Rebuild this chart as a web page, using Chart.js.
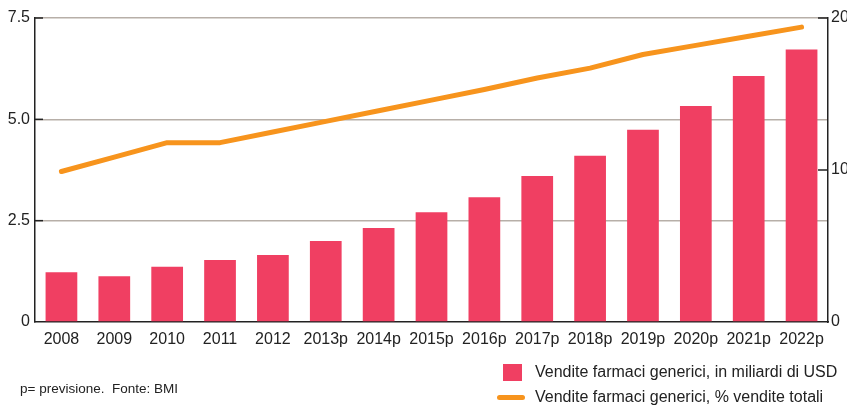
<!DOCTYPE html>
<html>
<head>
<meta charset="utf-8">
<script src="https://cdn.jsdelivr.net/npm/chart.js@4"></script>
<style>
  body { margin: 0; background: #fff; }
  #wrap { position: relative; width: 847px; height: 407px; font-family: "Liberation Sans", Arial, Helvetica, sans-serif; color: #222; }
  #wrap canvas { position: absolute; left: 0; top: 0; }
  .note { position: absolute; left: 20px; top: 381px; font-size: 13.5px; line-height: 16px; }
  .leg { position: absolute; left: 535px; font-size: 16px; line-height: 18px; white-space: nowrap; }
  .box { position: absolute; left: 503px; top: 364px; width: 19px; height: 17px; background: #f03f62; }
  .bar { position: absolute; left: 497px; top: 395px; width: 28px; height: 5px; border-radius: 3px; background: #f7941d; }
</style>
</head>
<body>
<div id="wrap">
  <canvas id="chart" width="847" height="407"></canvas>
  <div class="box"></div>
  <div class="leg" style="top:363px">Vendite farmaci generici, in miliardi di USD</div>
  <div class="bar"></div>
  <div class="leg" style="top:388px">Vendite farmaci generici, % vendite totali</div>
  <div class="note">p= previsione.&nbsp; Fonte: BMI</div>
</div>
<script>
const years = ["2008", "2009", "2010", "2011", "2012", "2013p", "2014p", "2015p",
  "2016p", "2017p", "2018p", "2019p", "2020p", "2021p", "2022p"];
// miliardi di USD (asse sinistro)
const salesUsd = [1.23, 1.13, 1.36, 1.53, 1.65, 2.0, 2.32, 2.71, 3.08, 3.6, 4.1, 4.74, 5.33, 6.07, 6.72];
// % vendite totali (asse destro)
const salesShare = [9.9, 10.85, 11.8, 11.8, 12.5, 13.2, 13.9, 14.6, 15.3, 16.05, 16.7, 17.6, 18.2, 18.8, 19.4];
const leftTicks = [0, 2.5, 5.0, 7.5];
const rightTicks = [0, 10, 20];

Chart.defaults.font.family = '"Liberation Sans", Arial, Helvetica, sans-serif';
Chart.defaults.font.size = 16;
Chart.defaults.color = "#222";

// short dark ticks pointing into the plot
const innerTicks = {
  id: "innerTicks",
  afterDraw(chart) {
    const { ctx, chartArea } = chart;
    const y = chart.scales.y, y1 = chart.scales.y1;
    ctx.save();
    ctx.strokeStyle = "#222";
    ctx.lineWidth = 1.5;
    leftTicks.forEach((v) => {
      if (v === 0) return;
      const py = y.getPixelForValue(v);
      ctx.beginPath();
      ctx.moveTo(chartArea.left, py);
      ctx.lineTo(chartArea.left + 8, py);
      ctx.stroke();
    });
    rightTicks.forEach((v) => {
      if (v === 0) return;
      const py = y1.getPixelForValue(v);
      ctx.beginPath();
      ctx.moveTo(chartArea.right - 10, py);
      ctx.lineTo(chartArea.right, py);
      ctx.stroke();
    });
    ctx.restore();
  },
};

new Chart(document.getElementById("chart"), {
  type: "bar",
  data: {
    labels: years,
    datasets: [
      {
        type: "line",
        label: "Vendite farmaci generici, % vendite totali",
        data: salesShare,
        yAxisID: "y1",
        borderColor: "#f7941d",
        borderWidth: 5,
        borderCapStyle: "round",
        borderJoinStyle: "round",
        pointRadius: 0,
        tension: 0,
        order: 0,
      },
      {
        label: "Vendite farmaci generici, in miliardi di USD",
        data: salesUsd,
        yAxisID: "y",
        backgroundColor: "#f03f62",
        categoryPercentage: 1,
        barPercentage: 0.6,
        order: 1,
      },
    ],
  },
  options: {
    responsive: false,
    animation: false,
    layout: { padding: { top: 18, bottom: 48, left: 0, right: 0 } },
    plugins: { legend: { display: false }, tooltip: { enabled: false } },
    scales: {
      x: {
        grid: { display: false, drawTicks: false },
        border: { display: true, color: "#222", width: 1.5 },
        ticks: { padding: 8, maxRotation: 0, autoSkip: false },
        afterFit: (s) => { s.height = 37; },
      },
      y: {
        position: "left",
        min: 0,
        max: 7.5,
        afterBuildTicks: (s) => { s.ticks = leftTicks.map((v) => ({ value: v })); },
        ticks: {
          padding: 5,
          callback: (v) => (v === 0 ? "0" : v.toFixed(1)),
        },
        grid: {
          drawTicks: false,
          color: (c) => (c.tick && c.tick.value === 0 ? "rgba(0,0,0,0)" : "#b7afa8"),
          lineWidth: 1.5,
        },
        border: { display: true, color: "#222", width: 1.5 },
        afterFit: (s) => { s.width = 35; },
      },
      y1: {
        position: "right",
        min: 0,
        max: 20,
        afterBuildTicks: (s) => { s.ticks = rightTicks.map((v) => ({ value: v })); },
        ticks: { padding: 3 },
        grid: { display: false, drawTicks: false },
        border: { display: true, color: "#222", width: 1.5 },
        afterFit: (s) => { s.width = 19; },
      },
    },
  },
  plugins: [innerTicks],
});
</script>
</body>
</html>
